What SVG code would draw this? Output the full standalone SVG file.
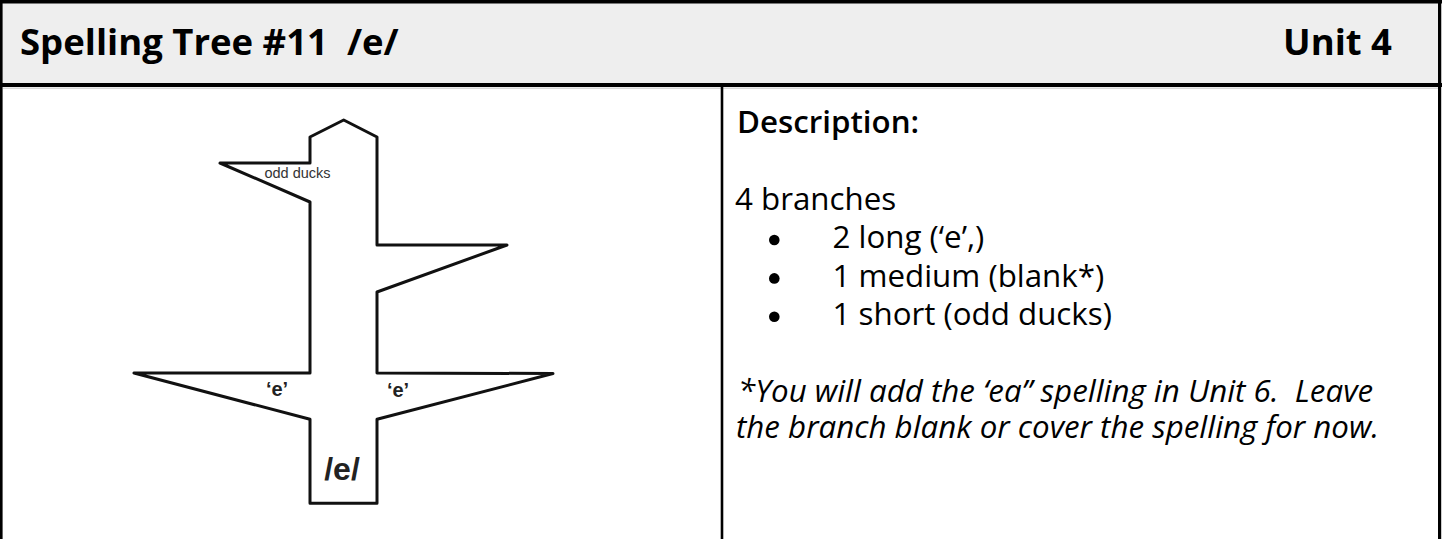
<svg xmlns="http://www.w3.org/2000/svg" width="1442" height="539" viewBox="0 0 1442 539">
  <style>
    text { white-space: pre; }
    .rule { stroke: #000; fill: none; }
    .title { font-family: "Open Sans", "Liberation Sans", sans-serif; font-weight: 700; font-size: 36.5px; fill: #000; }
    .body { font-family: "Open Sans", "Liberation Sans", sans-serif; font-size: 31.3px; fill: #000; }
    .head { font-weight: 600; }
    .note { font-style: italic; }
    .tree { fill: #fff; stroke: #111; stroke-width: 3; stroke-linejoin: round; }
    .lbl { font-family: "Liberation Sans", Arial, sans-serif; font-weight: 700; fill: #222; text-anchor: middle; }
    .small { font-weight: 400; fill: #333; }
  </style>

  <!-- page background -->
  <rect x="0" y="0" width="1442" height="539" fill="#fff"/>

  <!-- header band -->
  <g id="header">
    <rect x="0" y="0" width="1442" height="85" fill="#eeeeee"/>
    <text class="title" x="20" y="55" xml:space="preserve">Spelling Tree #11  /e/</text>
    <text class="title" x="1392" y="55" text-anchor="end">Unit 4</text>
  </g>

  <!-- table rules -->
  <g id="rules">
    <line class="rule" x1="0" y1="1.75" x2="1442" y2="1.75" stroke-width="3.5"/>
    <line class="rule" x1="0" y1="85" x2="1442" y2="85" stroke-width="4"/>
    <line x1="3" y1="88.3" x2="1438" y2="88.3" stroke="#d8d8d8" stroke-width="1.5"/>
    <line class="rule" x1="1.3" y1="0" x2="1.3" y2="539" stroke-width="2.6"/>
    <line class="rule" x1="1439.6" y1="0" x2="1439.6" y2="539" stroke-width="3.2"/>
    <line class="rule" x1="722" y1="87" x2="722" y2="539" stroke-width="2.6"/>
  </g>

  <!-- spelling tree outline -->
  <g id="tree">
    <polygon class="tree" points="343.7,120 377,137 377,245 507,245 377,292 377,373 553,373.5 377,419.3 377,503.3 310,503.3 310,419.3 134,373 310,373 310,202 220,163 310,163 310,137"/>
    <text class="lbl small" x="297.5" y="177.7" font-size="14.5">odd ducks</text>
    <text class="lbl" x="277" y="395.5" font-size="20">‘e’</text>
    <text class="lbl" x="398" y="396.5" font-size="20">‘e’</text>
    <text class="lbl" x="342" y="480" font-size="32">/e/</text>
  </g>

  <!-- description column -->
  <g id="description">
    <text class="body head" x="737" y="132.7">Description:</text>
    <text class="body" x="735" y="210">4 branches</text>
    <circle cx="774.3" cy="240" r="5.3"/>
    <circle cx="774.3" cy="278.4" r="5.3"/>
    <circle cx="774.3" cy="316.7" r="5.3"/>
    <text class="body" x="832.5" y="248.3">2 long (‘e’,)</text>
    <text class="body" x="832.5" y="286.7">1 medium (blank*)</text>
    <text class="body" x="832.5" y="325">1 short (odd ducks)</text>
    <text class="body note" x="738" y="401.7" xml:space="preserve">*You will add the ‘ea” spelling in Unit 6.  Leave</text>
    <text class="body note" x="736" y="438">the branch blank or cover the spelling for now.</text>
  </g>
</svg>
